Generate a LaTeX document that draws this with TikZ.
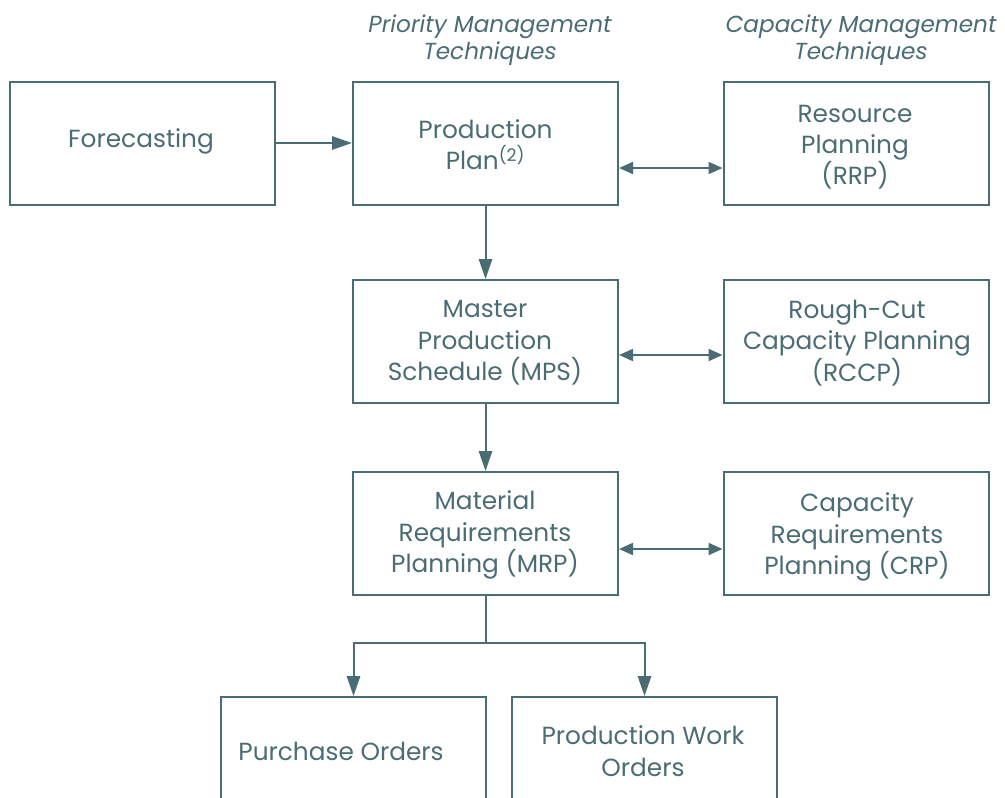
\documentclass[tikz,border=0pt]{standalone}
\usepackage{fontspec}
\setmainfont{Poppins}
\usetikzlibrary{arrows.meta}
\definecolor{slate}{RGB}{74,108,116}
\begin{document}
\begin{tikzpicture}[x=0.75pt,y=-0.75pt,
		box/.style={draw=slate,line width=1.5pt,minimum width=198.75pt,minimum height=92.25pt,inner sep=0pt},
		txt/.style={text=slate,align=center,font=\fontsize{18.6}{23.5}\selectfont},
		head/.style={text=slate,align=center,font=\fontsize{17.4}{20.5}\selectfont\itshape},
		flow/.style={draw=slate,line width=1.5pt,-{Triangle[length=15pt,width=10pt]}},
		link/.style={draw=slate,line width=1.5pt,{Triangle[length=10.5pt,width=9pt]}-{Triangle[length=10.5pt,width=9pt]}}]
	\useasboundingbox (0,0) rectangle (1005,797);
	\clip (0,0) rectangle (1005,797);
	% headings
	\node[head] (prio) at (490,40) {Priority Management\\Techniques};
	\node[head] (capa) at (861,40) {Capacity Management\\Techniques};
	% top row
	\node[box] (fore) at (142.5,143.5) {};
	\node[txt] at (141,141) {Forecasting};
	\node[box] (pp) at (485.5,143.5) {};
	\node[txt] at (485.5,145) {Production\\Plan\textsuperscript{(2)}};
	\node[box] (rrp) at (856,143.5) {};
	\node[txt] at (855,147) {Resource\\Planning\\(RRP)};
	% middle row
	\node[box] (mps) at (485.5,341.5) {};
	\node[txt] at (485,343) {Master\\Production\\Schedule (MPS)};
	\node[box] (rccp) at (856,341.5) {};
	\node[txt] at (857,343) {Rough-Cut\\Capacity Planning\\(RCCP)};
	% MRP row
	\node[box] (mrp) at (485.5,533.5) {};
	\node[txt] at (485,535) {Material\\Requirements\\Planning (MRP)};
	\node[box] (crp) at (856,533.5) {};
	\node[txt] at (857,537) {Capacity\\Requirements\\Planning (CRP)};
	% orders
	\node[box] (po) at (353.5,758.5) {};
	\node[txt] at (341,751) {Purchase Orders};
	\node[box] (pwo) at (644.5,758.5) {};
	\node[txt] at (643,751) {Production Work\\Orders};
	% connectors
	\coordinate (split) at (485.5,643);
	\draw[flow] (fore.east |- 0,143) -- (pp.west |- 0,143);
	\draw[link] (pp.east |- 0,168) -- (rrp.west |- 0,168);
	\draw[link] (mps.east |- 0,355) -- (rccp.west |- 0,355);
	\draw[link] (mrp.east |- 0,549) -- (crp.west |- 0,549);
	\draw[flow] (pp) -- (mps);
	\draw[flow] (mps) -- (mrp);
	\draw[draw=slate,line width=1.5pt] (mrp.south) -- (split);
	\draw[flow] (split) -| (po.north);
	\draw[flow] (split) -| (pwo.north);
\end{tikzpicture}
\end{document}
